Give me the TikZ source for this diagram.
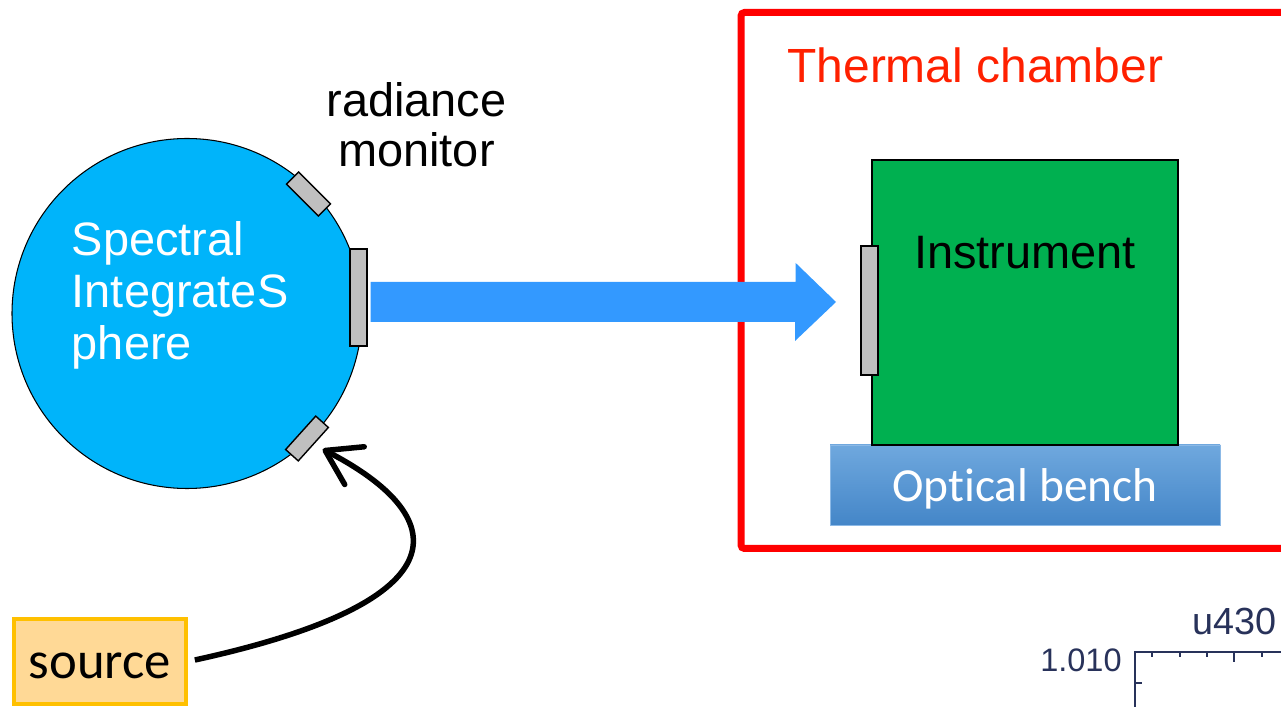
\documentclass[tikz,border=0pt]{standalone}
\usepackage{fontspec}
\setmainfont{Liberation Sans}
\newfontfamily\calibri[Ligatures=NoCommon]{Carlito}
\usetikzlibrary{arrows.meta}
\definecolor{spherecol}{RGB}{0,180,250}
\definecolor{portgray}{RGB}{191,191,191}
\definecolor{beamblue}{RGB}{51,153,255}
\definecolor{chamberred}{RGB}{255,0,0}
\definecolor{labelred}{RGB}{255,32,0}
\definecolor{instrgreen}{RGB}{0,176,80}
\definecolor{benchtop}{RGB}{111,168,222}
\definecolor{benchbot}{RGB}{68,134,200}
\definecolor{benchedge}{RGB}{140,185,230}
\definecolor{srcorange}{RGB}{255,192,0}
\definecolor{srcfill}{RGB}{255,217,150}
\definecolor{plotink}{RGB}{40,50,90}

\begin{document}
\begin{tikzpicture}
[
port/.style={draw, fill=portgray, line width=0.8pt, minimum width=0.9cm, minimum height=0.34cm, inner sep=0},
bigtext/.style={font=\fontsize{26.7}{29.6}\selectfont, inner sep=0},
benchbox/.style={draw=benchedge, top color=benchtop, bottom color=benchbot, minimum width=7.8cm, minimum height=1.6cm, inner sep=0},
srcbox/.style={draw=srcorange, fill=srcfill, line width=0.08cm, minimum width=3.44cm, minimum height=1.7cm, inner sep=0, text height=0.7cm, text depth=0cm, font=\calibri\fontsize{30}{33}\selectfont},
srcarrow/.style={line width=0.11cm, -{Straight Barb[length=0.66cm, width=0.85cm, round]}, shorten <=0.14cm, shorten >=0.2cm},
plotaxis/.style={line width=0.04cm, plotink}
]
\clip (0,0) rectangle (25.62,14.14);

\node[circle, draw, fill=spherecol, line width=0.6pt, minimum size=7cm, inner sep=0] (sphere) at (3.74,7.87) {};
\node[bigtext, white, align=left, anchor=base west] (stext) at (1.43,6.94) {Spectral\\IntegrateS\\phere};
\node[port, rotate=-45] (tport) at (6.17,10.26) {};
\node[port, minimum width=0.34cm, minimum height=1.94cm] (rport) at (7.17,8.19) {};
\node[port, rotate=48] (bport) at (6.14,5.37) {};
\node[bigtext, align=center, anchor=base, font=\fontsize{26.7}{28.45}\selectfont] (rmon) at (8.33,10.81) {radiance\\monitor};

\node[draw=chamberred, line width=0.14cm, rounded corners=2pt, minimum width=11.05cm, minimum height=10.72cm, anchor=south west, inner sep=0] (chamber) at (14.75,3.1) {};
\node[bigtext, labelred, anchor=base west, font=\fontsize{27.3}{30}\selectfont] (ctext) at (15.74,12.48) {Thermal chamber};

\node[benchbox] (bench) at (20.5,4.44) {};
\node[font=\calibri\fontsize{27}{30}\selectfont, white, anchor=base, inner sep=0] (btext) at (20.5,4.1) {Optical bench};
\node[draw, fill=instrgreen, line width=0.8pt, minimum width=6.12cm, minimum height=5.7cm, inner sep=0] (instr) at (20.5,8.09) {};
\node[bigtext, anchor=base] (itext) at (20.5,8.76) {Instrument};
\node[port, minimum width=0.34cm, minimum height=2.58cm] (iport) at (17.39,7.93) {};

\coordinate (tip) at (16.72,8.1);
\path (rport.east |- tip) ++(0.06,0) coordinate (tail);
\fill[beamblue] ([yshift=0.4cm]tail) -- ++(8.5,0) -- ++(0,0.38) -- (tip) -- ++(-0.82,-0.78) -- ++(0,0.38) -- ([yshift=-0.4cm]tail) -- cycle;

\node[srcbox] (source) at (2.0,0.91) {source};
\draw[srcarrow] (source.east) .. controls (9.4,2.14) and (9.0,3.84) .. (bport.south);

\draw[plotaxis] (25.8,1.1) -- (22.7,1.1) -- (22.7,-0.2);
\foreach \tx in {23.04,23.6,24.14,25.24}
  \draw[plotaxis] (\tx,1.1) -- ++(0,-0.1);
\draw[plotaxis] (24.68,1.1) -- ++(0,-0.2);
\draw[plotaxis] (22.7,0.48) -- ++(0.14,0);
\node[font=\fontsize{18.5}{22}\selectfont, plotink, anchor=base east, inner sep=0] (ytick) at (22.44,0.7) {1.010};
\node[font=\fontsize{21.5}{24}\selectfont, plotink, anchor=base west, inner sep=0] (ptitle) at (23.84,1.44) {u430};
\end{tikzpicture}
\end{document}
